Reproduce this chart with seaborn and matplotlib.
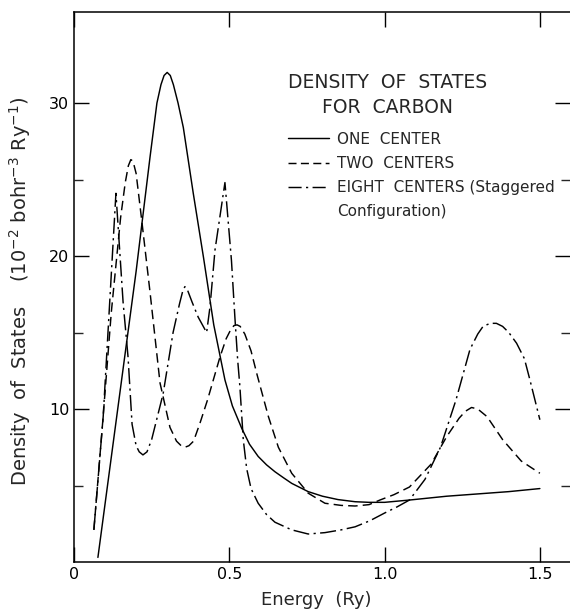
import numpy as np
import pandas as pd
import matplotlib
matplotlib.use("Agg")
import matplotlib.pyplot as plt
import seaborn as sns
from matplotlib.lines import Line2D

# ---------------- data ----------------
energy_one = [0.077, 0.15, 0.20, 0.245, 0.267, 0.28, 0.29, 0.30, 0.31, 0.32, 0.335,
              0.352, 0.384, 0.417, 0.45, 0.486, 0.51, 0.54, 0.565, 0.593, 0.62,
              0.647, 0.675, 0.701, 0.754, 0.80, 0.85, 0.905, 0.95, 1.00, 1.08,
              1.20, 1.30, 1.40, 1.50]
dos_one = [0.3, 11.4, 19.0, 26.5, 30.0, 31.2, 31.8, 32.0, 31.8, 31.2, 30.0,
           28.4, 24.1, 19.9, 15.5, 11.9, 10.2, 8.74, 7.7, 6.9, 6.35,
           5.9, 5.5, 5.14, 4.6, 4.3, 4.08, 3.94, 3.9, 3.9, 4.05,
           4.3, 4.45, 4.6, 4.8]

energy_two = [0.064, 0.093, 0.12, 0.15, 0.165, 0.175, 0.183, 0.19, 0.20, 0.22, 0.245,
              0.277, 0.309, 0.33, 0.345, 0.357, 0.37, 0.385, 0.406, 0.43, 0.47,
              0.49, 0.505, 0.515, 0.525, 0.535, 0.55, 0.57, 0.59, 0.626, 0.658,
              0.701, 0.754, 0.808, 0.86, 0.905, 0.95, 0.985, 1.03, 1.08, 1.15,
              1.20, 1.24, 1.26, 1.28, 1.30, 1.33, 1.38, 1.44, 1.50]
dos_two = [2.1, 9.3, 16.3, 22.5, 24.8, 25.9, 26.3, 26.2, 25.4, 22.0, 17.6,
           11.7, 8.8, 7.9, 7.6, 7.5, 7.6, 7.9, 9.1, 10.6, 13.4,
           14.6, 15.2, 15.45, 15.5, 15.4, 14.9, 13.8, 12.2, 9.5, 7.5,
           5.8, 4.5, 3.84, 3.7, 3.66, 3.75, 4.05, 4.4, 4.9, 6.4,
           8.2, 9.4, 9.85, 10.1, 10.0, 9.5, 8.0, 6.6, 5.8]

energy_eight = [0.064, 0.094, 0.115, 0.135, 0.158, 0.174, 0.187, 0.20, 0.21, 0.222,
                0.235, 0.25, 0.287, 0.319, 0.34, 0.35, 0.357, 0.365, 0.38, 0.40,
                0.427, 0.438, 0.454, 0.47, 0.486, 0.507, 0.518, 0.527, 0.534, 0.545,
                0.556, 0.57, 0.593, 0.62, 0.647, 0.701, 0.754, 0.808, 0.86, 0.905,
                0.953, 1.00, 1.04, 1.08, 1.13, 1.18, 1.23, 1.275, 1.30, 1.317,
                1.34, 1.36, 1.38, 1.40, 1.425, 1.45, 1.468, 1.50]
dos_eight = [2.1, 9.5, 17.0, 24.1, 17.0, 13.4, 9.0, 7.6, 7.2, 7.0,
             7.2, 8.0, 11.0, 15.0, 16.9, 17.7, 18.0, 17.8, 17.0, 16.0,
             15.0, 16.7, 20.4, 22.6, 24.8, 19.7, 16.0, 13.2, 11.5, 8.0,
             6.1, 4.8, 3.84, 3.1, 2.6, 2.1, 1.83, 1.92, 2.1, 2.3,
             2.7, 3.2, 3.6, 4.05, 5.4, 7.5, 10.6, 13.9, 14.9, 15.4,
             15.6, 15.6, 15.4, 15.0, 14.3, 13.3, 11.9, 9.3]

legend_title = "DENSITY  OF  STATES\nFOR  CARBON"
series_labels = ["ONE  CENTER", "TWO  CENTERS", "EIGHT  CENTERS (Staggered", "Configuration)"]
x_tick_values = [0, 0.5, 1.0, 1.5]
x_tick_labels = ["0", "0.5", "1.0", "1.5"]
y_major = [10, 20, 30]
y_minor = [5, 15, 25]

# ---------------- figure ----------------
sns.set_style("ticks")
plt.rcParams["font.family"] = ["DejaVu Sans"]

W, H = 570, 613
fig = plt.figure(figsize=(W / 100, H / 100), dpi=100)
ax = fig.add_axes([74 / W, 51 / H, 496 / W, 550 / H])

lw = 1.05
solid_style = "-"
dashed_style = (0, (6.5, 3.5))
dashdot_style = (0, (11, 3, 1.5, 3))

sns.lineplot(x=energy_one, y=dos_one, ax=ax, color="black", lw=lw,
             linestyle=solid_style, sort=False, errorbar=None)
sns.lineplot(x=energy_two, y=dos_two, ax=ax, color="black", lw=lw,
             linestyle=dashed_style, sort=False, errorbar=None)
sns.lineplot(x=energy_eight, y=dos_eight, ax=ax, color="black", lw=lw,
             linestyle=dashdot_style, sort=False, errorbar=None)

ax.set_xlim(0, 1.597)
ax.set_ylim(0, 35.95)

ax.set_xticks(x_tick_values)
ax.set_xticklabels(x_tick_labels)
ax.set_yticks(y_major)
ax.set_yticks(y_minor, minor=True)

ax.tick_params(which="major", direction="in", length=11, width=1.0,
               top=True, right=True, labelsize=11.5, pad=3.5, colors="black")
ax.tick_params(which="minor", direction="in", length=6.5, width=1.0,
               left=True, right=True, top=False, bottom=False)
for side in ["left", "bottom", "top"]:
    ax.spines[side].set_linewidth(1.1)
    ax.spines[side].set_color("black")
ax.spines["right"].set_visible(False)

ax.set_xlabel("Energy  (Ry)", fontsize=13)
ax.set_ylabel(r"Density  of  States    (10$^{-2}$ bohr$^{-3}$ Ry$^{-1}$)", fontsize=14)
ax.xaxis.set_label_coords(0.488, -0.053)
ax.yaxis.set_label_coords(-0.083, 0.493)

handles = [
    Line2D([], [], color="black", lw=lw, linestyle=solid_style),
    Line2D([], [], color="black", lw=lw, linestyle=(0, (5.5, 3))),
    Line2D([], [], color="black", lw=lw, linestyle=(0, (9, 3, 1.5, 3))),
    Line2D([], [], color="none", lw=lw),
]
leg = ax.legend(handles, series_labels, title=legend_title, frameon=False,
                loc="upper left", bbox_to_anchor=(0.431, 0.890),
                fontsize=11, title_fontsize=13.5, handlelength=2.7,
                handletextpad=0.5, labelspacing=0.60, borderpad=0.0,
                borderaxespad=0.0, alignment="left")
leg.get_title().set_multialignment("center")
leg.get_title().set_linespacing(1.45)
leg._legend_box.sep = 10.5

fig.savefig("out.png", dpi=100)
